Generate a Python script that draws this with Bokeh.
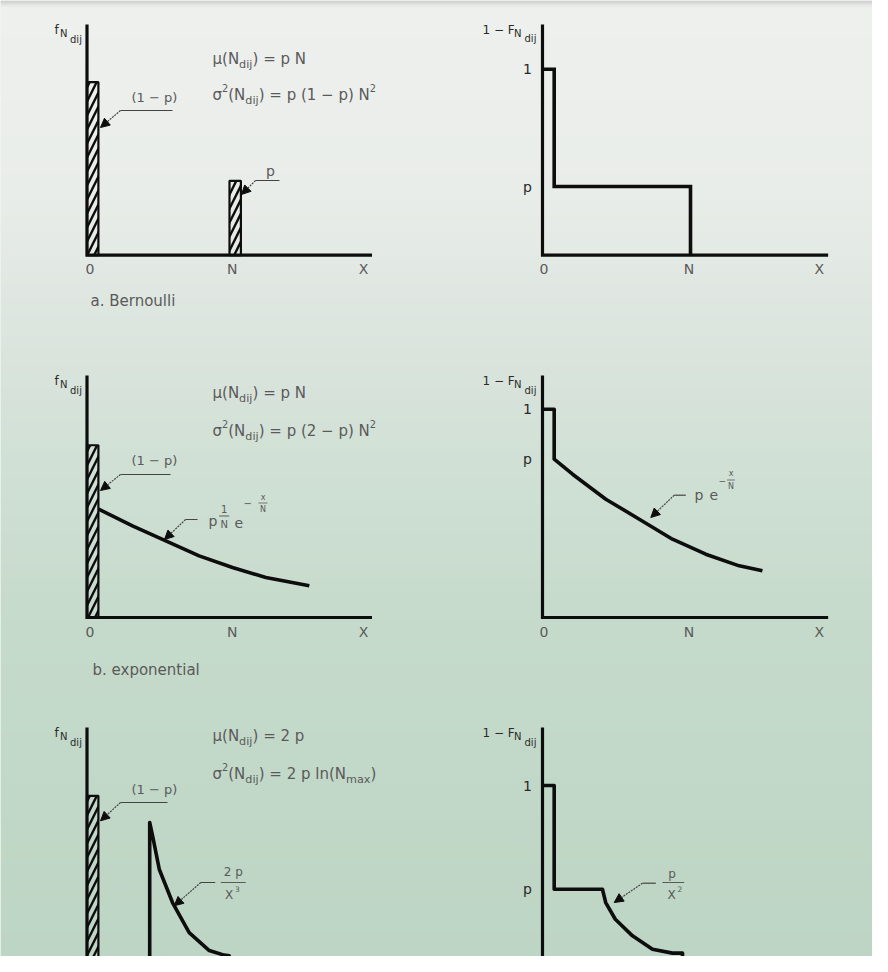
import numpy as np
from bokeh.plotting import figure
from bokeh.models import Range1d, Arrow, NormalHead
from bokeh.core.properties import value
from bokeh.embed import file_html
from bokeh.resources import INLINE

# ---------------- data ----------------
# x in units of N, y in each panel's own probability units
x_tick_labels = ["0", "N", "X"]
x_tick_pos_left = [0.02, 1.02, 1.94]
x_tick_pos_right = [0.01, 0.99, 1.87]
bar_width = 0.08

# a. Bernoulli
bern_bar_x = [0.0, 1.0]
bern_bar_h = [0.93, 0.40]
bern_ccdf_x = [0.0, 0.079, 0.079, 1.0, 1.0]
bern_ccdf_y = [1.0, 1.0, 0.369, 0.369, 0.0]
bern_p = 0.369

# b. exponential
exp_bar_x = [0.0]
exp_bar_h = [0.827]
exp_pdf_x = [0.082, 0.319, 0.553, 0.787, 1.021, 1.255, 1.56]
exp_pdf_y = [0.52, 0.44, 0.368, 0.296, 0.24, 0.192, 0.152]
exp_ccdf_x = [0.0, 0.079, 0.079, 0.203, 0.428, 0.654, 0.878, 1.103, 1.329, 1.486]
exp_ccdf_y = [1.0, 1.0, 0.76, 0.688, 0.568, 0.472, 0.376, 0.304, 0.248, 0.224]
exp_p = 0.76

# c. power law
pow_bar_x = [0.0]
pow_bar_h = [0.943]
pow_pdf_x = [0.44, 0.44, 0.46, 0.507, 0.6, 0.717, 0.858, 0.963, 0.998, 0.998]
pow_pdf_y = [0.0, 0.797, 0.725, 0.54, 0.357, 0.192, 0.093, 0.068, 0.064, 0.0]
pow_ccdf_x = [0.0, 0.079, 0.079, 0.405, 0.427, 0.492, 0.608, 0.743, 0.878, 0.946, 0.946]
pow_ccdf_y = [1.0, 1.0, 0.43, 0.43, 0.357, 0.265, 0.174, 0.1, 0.079, 0.079, 0.0]
pow_p = 0.43

# ---------------- layout / style ----------------
W, H = 872, 956
X0, X1 = 8, 880
TOPPX, BOTPX = 8, 964
FONT = "DejaVu Sans"
TXT = "#5a5a5a"
DARK = "#2a2a2a"
INK = "#0d0d0d"

SIDES = {"L": dict(x0=94.5, sx=142.5, xend=2.0),
         "R": dict(x0=550.0, sx=148.0, xend=1.93)}
ROWS = {"a": dict(y0=262.7, sy=186.0, top=1.24, ticks=True),
        "b": dict(y0=625.0, sy=208.3, top=1.162, ticks=True),
        "c": dict(y0=975.0, sy=182.0, top=1.319, ticks=False)}


def Y(py):
    return 972 - py


p = figure(width=W, height=H, x_range=Range1d(X0, X1), y_range=Range1d(8, 964),
           output_backend="svg", toolbar_location=None, min_border=0,
           x_axis_type=None, y_axis_type=None)
p.grid.visible = False
p.outline_line_color = None
p.background_fill_color = "#e6ebe6"
p.border_fill_color = "white"

p.extra_x_ranges = {k: Range1d((X0 - s["x0"]) / s["sx"], (X1 - s["x0"]) / s["sx"]) for k, s in SIDES.items()}
p.extra_y_ranges = {k: Range1d((r["y0"] - BOTPX) / r["sy"], (r["y0"] - TOPPX) / r["sy"]) for k, r in ROWS.items()}

# background gradient
stops_py = [8, 9, 12, 15, 200, 330, 500, 640, 972]
stops_rgb = np.array([(214, 214, 214), (206, 206, 206), (226, 228, 226), (238, 240, 238),
                      (233, 237, 233), (221, 229, 223), (206, 223, 211), (197, 218, 203),
                      (189, 213, 196)], dtype=float)
rows_i = np.arange(H)
pys = 964 - rows_i - 0.5
img = np.empty((H, 2), dtype=np.uint32)
view = img.view(dtype=np.uint8).reshape((H, 2, 4))
for c in range(3):
    col = np.interp(pys, stops_py, stops_rgb[:, c])
    view[:, :, c] = np.round(col)[:, None].astype(np.uint8)
view[:, :, 3] = 255
p.image_rgba(image=[img], x=X0, y=8, dw=W, dh=H)


def rn(side, row):
    return dict(x_range_name=side, y_range_name=row)


WID = {' ': 318, '(': 390, ')': 390, '=': 838, 'p': 635, 'N': 748, 'd': 635, 'i': 278,
       'j': 278, '1': 636, '2': 636, '−': 838, 'μ': 636, 'σ': 634, 'l': 278, 'n': 634,
       'm': 974, 'a': 613, 'x': 592, 'X': 684, 'e': 615, 'F': 575, 'f': 352, '0': 636}


def tw(s, fs):
    return sum(WID.get(ch, 620) for ch in s) * fs / 1000.0


def put(px, py, s, fs, color=TXT, align="left", baseline="middle"):
    p.text(x=[px], y=[Y(py)], text=[s], text_font=value(FONT),
           text_font_size=value(f"{fs}px"), text_color=color,
           text_align=align, text_baseline=baseline)


def rich(px, py, pieces, fs, color=TXT):
    x = px
    for s, role in pieces:
        if role == "n":
            f, dy = fs, 0
        elif role == "sub":
            f, dy = fs * 0.75, fs * 0.42
        else:
            f, dy = fs * 0.65, -fs * 0.42
        put(x, py + dy, s, round(f, 1), color)
        x += tw(s, f)


def hline(xa, xb, py, lw=1.0, color=TXT):
    p.line(x=[xa, xb], y=[Y(py), Y(py)], line_width=lw, line_color=color)


def leader(hx0, hx1, hy, tx, ty):
    hline(hx0, hx1, hy, 1.2, "#444444")
    p.add_layout(Arrow(end=NormalHead(size=9, fill_color=INK, line_color=INK, line_width=1),
                       x_start=hx0, y_start=Y(hy), x_end=tx, y_end=Y(ty),
                       line_width=1.2, line_color="#444444", line_dash="2 1"))


# ---------------- panels ----------------
for side in SIDES:
    for row in ROWS:
        s, r = SIDES[side], ROWS[row]
        p.line(x=[0, 0, s["xend"]], y=[r["top"], 0, 0], line_width=3.2, line_color=INK,
               line_join="miter", **rn(side, row))
        if r["ticks"]:
            xs = x_tick_pos_left if side == "L" else x_tick_pos_right
            p.text(x=xs, y=[-14 / r["sy"]] * 3, text=x_tick_labels, text_font=value(FONT),
                   text_font_size=value("14px"), text_color=TXT, text_align="center",
                   text_baseline="middle", **rn(side, row))


def bars(xs, hs, row):
    p.quad(left=xs, right=[x + bar_width for x in xs], bottom=[0] * len(xs), top=hs,
           fill_alpha=0, line_color=INK, line_width=2.2, hatch_pattern="/",
           hatch_color=INK, hatch_weight=2.4, hatch_scale=14, **rn("L", row))


bars(bern_bar_x, bern_bar_h, "a")
bars(exp_bar_x, exp_bar_h, "b")
bars(pow_bar_x, pow_bar_h, "c")

p.line(x=exp_pdf_x, y=exp_pdf_y, line_width=3.6, line_color=INK, line_join="round", **rn("L", "b"))
p.line(x=pow_pdf_x, y=pow_pdf_y, line_width=3.6, line_color=INK, line_join="round", **rn("L", "c"))

p.line(x=bern_ccdf_x, y=bern_ccdf_y, line_width=3.6, line_color=INK, line_join="miter", **rn("R", "a"))
p.line(x=exp_ccdf_x, y=exp_ccdf_y, line_width=3.6, line_color=INK, line_join="round", **rn("R", "b"))
p.line(x=pow_ccdf_x, y=pow_ccdf_y, line_width=3.6, line_color=INK, line_join="round", **rn("R", "c"))

# y tick labels of the right panels
for row, pv in (("a", bern_p), ("b", exp_p), ("c", pow_p)):
    sx = SIDES["R"]["sx"]
    p.text(x=[-15 / sx, -15 / sx], y=[1.0, pv], text=["1", "p"], text_font=value(FONT),
           text_font_size=value("14px"), text_color=DARK, text_align="center",
           text_baseline="middle", **rn("R", row))

# y axis labels
for top in (31.7, 383.0, 735.0):
    put(62, top + 5.5, "f", 12, DARK)
    put(67.5, top + 9, "N", 10, DARK)
    put(77.5, top + 15, "dij", 10, DARK)
    put(490, top + 5.5, "1 − F", 12, DARK)
    put(521.5, top + 9, "N", 10, DARK)
    put(532, top + 14.5, "dij", 10, DARK)

# formulas
FS = 15
rich(220, 66, [("μ(N", "n"), ("dij", "sub"), (") = p N", "n")], FS)
rich(220, 102, [("σ", "n"), ("2", "sup"), ("(N", "n"), ("dij", "sub"), (") = p (1 − p) N", "n"), ("2", "sup")], FS)
rich(220, 400, [("μ(N", "n"), ("dij", "sub"), (") = p N", "n")], FS)
rich(220, 438, [("σ", "n"), ("2", "sup"), ("(N", "n"), ("dij", "sub"), (") = p (2 − p) N", "n"), ("2", "sup")], FS)
rich(220, 743, [("μ(N", "n"), ("dij", "sub"), (") = 2 p", "n")], FS)
rich(220, 781, [("σ", "n"), ("2", "sup"), ("(N", "n"), ("dij", "sub"), (") = 2 p ln(N", "n"), ("max", "sub"), (")", "n")], FS)

# captions
put(98, 308, "a.  Bernoulli", 15)
put(100, 677, "b.  exponential", 15)

# (1 - p) labels and leaders
for ly in (105, 468, 796.7):
    put(139, ly, "(1 − p)", 13)
leader(128, 180, 118, 108, 135)
leader(128, 178, 482, 108, 498)
leader(128, 175, 810, 108, 828.3)

# p label (Bernoulli)
put(273.5, 178, "p", 14)
leader(263, 287, 188, 249, 202)

# exponential pdf label: p (1/N) e^(-x/N)
leader(193, 205, 527, 172, 547)
put(216, 528, "p", 14)
put(231.7, 516.5, "1", 10, align="center")
hline(226.7, 236.7, 523.5, 1.0)
put(231.7, 531.5, "N", 10, align="center")
put(242, 530, "e", 14)
put(251, 510, "−", 10)
put(270.5, 504.5, "x", 8, align="center")
hline(266, 275, 510.5, 0.8)
put(270.5, 516.5, "N", 8, align="center")

# exponential ccdf label: p e^(-x/N)
leader(681.7, 693.3, 502.7, 658.3, 525)
put(702, 502, "p", 14)
put(717, 502, "e", 14)
put(726, 488, "−", 9)
put(738.5, 481, "x", 8, align="center")
hline(734.5, 742.5, 487.5, 0.8)
put(738.5, 493.5, "N", 8, align="center")

# power law pdf label: 2p / X^3
leader(208.3, 222.7, 890, 181.7, 913.3)
put(240.8, 879.5, "2 p", 12, align="center")
hline(228.3, 253.3, 890, 1.0)
put(236.5, 902, "X", 12, align="center")
put(242.5, 896, "3", 7.5)

# power law ccdf label: p / X^2
leader(650, 663.3, 890.7, 621.7, 910)
put(679.5, 881.5, "p", 12, align="center")
hline(670, 691.7, 890, 1.0)
put(679, 902, "X", 12, align="center")
put(685, 896, "2", 7.5)

open("out.html", "w").write(file_html(p, INLINE))
